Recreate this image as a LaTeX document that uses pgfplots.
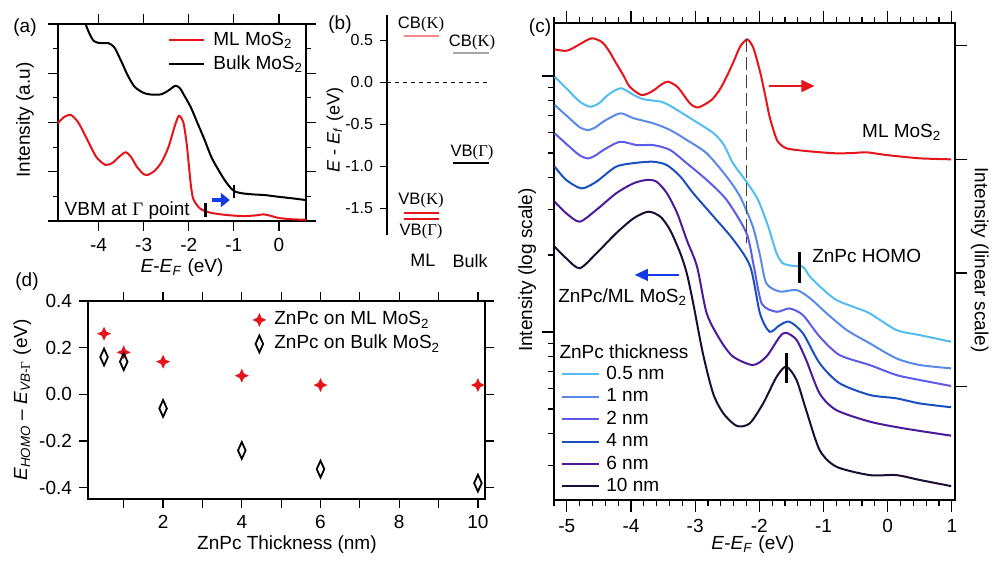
\documentclass[border=0pt]{standalone}
\usepackage{fontspec}
\setmainfont{Liberation Sans}
\newfontfamily\serif{Liberation Serif}
\usepackage{pgfplots}
\pgfplotsset{compat=1.18}
\usetikzlibrary{arrows.meta}

\definecolor{cred}{RGB}{230,20,27}
\definecolor{cpink}{RGB}{240,138,138}
\definecolor{cgray}{RGB}{166,166,166}
\definecolor{cblue}{RGB}{20,60,230}
\definecolor{cA}{RGB}{80,190,240}
\definecolor{cB}{RGB}{90,138,232}
\definecolor{cC}{RGB}{92,92,232}
\definecolor{cD}{RGB}{26,79,194}
\definecolor{cE}{RGB}{75,26,155}
\definecolor{cF}{RGB}{28,13,51}

\pgfdeclareplotmark{star4}{%
 \pgfpathmoveto{\pgfqpoint{0pt}{3.5pt}}%
 \pgfpathlineto{\pgfqpoint{1.1pt}{1.1pt}}%
 \pgfpathlineto{\pgfqpoint{3.5pt}{0pt}}%
 \pgfpathlineto{\pgfqpoint{1.1pt}{-1.1pt}}%
 \pgfpathlineto{\pgfqpoint{0pt}{-3.5pt}}%
 \pgfpathlineto{\pgfqpoint{-1.1pt}{-1.1pt}}%
 \pgfpathlineto{\pgfqpoint{-3.5pt}{0pt}}%
 \pgfpathlineto{\pgfqpoint{-1.1pt}{1.1pt}}%
 \pgfpathclose
 \pgfusepathqfill}
\pgfdeclareplotmark{tdiamond}{%
 \pgfpathmoveto{\pgfqpoint{0pt}{4.2pt}}%
 \pgfpathlineto{\pgfqpoint{1.9pt}{0pt}}%
 \pgfpathlineto{\pgfqpoint{0pt}{-4.2pt}}%
 \pgfpathlineto{\pgfqpoint{-1.9pt}{0pt}}%
 \pgfpathclose
 \pgfusepathqstroke}

\pgfplotsset{
  every axis/.append style={scale only axis, clip=false,
    axis line style={line width=0.7pt}, tick style={line width=0.6pt, black},
    /pgf/number format/assume math mode=true},
  curve/.style={line width=1pt, smooth, tension=0.45},
}

\begin{document}
\begin{tikzpicture}[font=\fontsize{9.5}{11.4}\selectfont]
\useasboundingbox (0,0) rectangle (496.5pt,-280.5pt);

% ---------------- (a)
\begin{axis}[at={(29pt,-110.5pt)}, anchor=south west, width=124pt, height=98.5pt,
  xmin=-4.9, xmax=0.6, ymin=0, ymax=8,
  xtick={-4,-3,-2,-1,0}, xtick pos=both, xticklabel pos=lower,
  ytick={0,2,4,6,8}, minor ytick={1,3,5,7}, ytick pos=both, yticklabel=\empty,
  tick align=outside, major tick length=5pt, minor tick length=2.5pt,
  legend style={at={(0.4435,0.98)}, anchor=north west, draw=none, fill=none, inner sep=0pt,
    row sep=0pt, column sep=3pt, nodes={inner sep=1pt, text height=7.5pt, text depth=2.5pt}},
  legend cell align=left,
  legend image code/.code={\draw[#1] (0pt,0pt) -- (17.5pt,0pt);},
]
\addplot[cred, curve] coordinates {(-4.9,3.97)(-4.78,4.2)(-4.62,4.31)(-4.45,4.0)(-4.25,3.3)(-4.05,2.6)(-3.85,2.28)(-3.7,2.35)(-3.55,2.6)(-3.4,2.79)(-3.28,2.6)(-3.15,2.2)(-3.0,1.9)(-2.9,1.88)(-2.75,2.05)(-2.6,2.4)(-2.45,3.0)(-2.32,3.8)(-2.22,4.27)(-2.12,4.0)(-2.05,3.2)(-2.0,2.3)(-1.95,1.4)(-1.9,0.9)(-1.8,0.6)(-1.7,0.45)(-1.5,0.33)(-1.2,0.25)(-0.8,0.2)(-0.5,0.23)(-0.35,0.27)(-0.2,0.22)(0.0,0.12)(0.3,0.07)(0.6,0.05)};
\addlegendentry{ML MoS\textsubscript{2}}
\addplot[black, curve] coordinates {(-4.29,8.0)(-4.2,7.6)(-4.1,7.3)(-3.95,7.22)(-3.78,7.22)(-3.65,7.05)(-3.5,6.5)(-3.35,5.9)(-3.2,5.45)(-3.0,5.2)(-2.8,5.13)(-2.6,5.15)(-2.45,5.3)(-2.3,5.49)(-2.2,5.4)(-2.1,5.1)(-1.95,4.6)(-1.8,3.95)(-1.65,3.3)(-1.5,2.6)(-1.35,2.1)(-1.2,1.65)(-1.05,1.3)(-0.95,1.18)(-0.8,1.12)(-0.57,1.08)(-0.3,1.05)(-0.04,0.99)(0.3,0.92)(0.6,0.85)};
\addlegendentry{Bulk MoS\textsubscript{2}}
\addplot[black, line width=1.1pt, forget plot] coordinates {(-1.0,0.92)(-1.0,1.46)};
\addplot[black, line width=1.1pt, forget plot] coordinates {(-1.63,0.18)(-1.63,0.72)};
\draw[cblue, line width=2.2pt, -{Triangle[length=4.5pt,width=7pt]}] (axis cs:-1.49,0.85) -- (axis cs:-1.09,0.85);
\node[anchor=base west, inner sep=0pt] at (axis cs:-4.76,0.24) {VBM at {\serif Γ} point};
\node[rotate=90] at (rel axis cs:-0.133,0.513) {Intensity (a.u)};
\node at (rel axis cs:0.5,-0.239) {\textit{E}-\textit{E}\textsubscript{\textit{F}} (eV)};
\end{axis}

% ---------------- (b)
\begin{axis}[at={(193.5pt,-117.5pt)}, anchor=south west, width=54pt, height=110pt,
  xmin=0, xmax=1, ymin=-1.82, ymax=0.80,
  axis x line=none, axis y line*=left,
  ytick={-1.5,-1,-0.5,0,0.5}, tick align=outside, major tick length=3.5pt,
  yticklabel style={font=\fontsize{8}{9.6}\selectfont, /pgf/number format/fixed, /pgf/number format/fixed zerofill, /pgf/number format/precision=1},
]
\addplot[cpink, line width=1.2pt] coordinates {(0.157,0.55)(0.48,0.55)};
\addplot[cgray, line width=1.2pt] coordinates {(0.61,0.35)(0.944,0.35)};
\addplot[black, line width=0.6pt, dash pattern=on 2pt off 2pt] coordinates {(0,0)(0.944,0)};
\addplot[black, line width=1.2pt] coordinates {(0.61,-0.96)(0.944,-0.96)};
\addplot[cred, line width=1.1pt] coordinates {(0.157,-1.56)(0.48,-1.56)};
\addplot[cred, line width=1.1pt] coordinates {(0.157,-1.625)(0.48,-1.625)};
\begin{scope}[font=\fontsize{8.3}{10}\selectfont]
\node at (axis cs:0.315,0.69) {CB{\serif(K)}};
\node at (axis cs:0.787,0.476) {CB{\serif(K)}};
\node at (axis cs:0.787,-0.843) {VB{\serif(Γ)}};
\node at (axis cs:0.315,-1.406) {VB{\serif(K)}};
\node at (axis cs:0.315,-1.778) {VB{\serif(Γ)}};
\end{scope}
\node[font=\fontsize{9}{10.8}\selectfont] at (axis cs:0.333,-2.126) {ML};
\node[font=\fontsize{9}{10.8}\selectfont] at (axis cs:0.769,-2.126) {Bulk};
\node[rotate=90, font=\fontsize{9}{10.8}\selectfont] at (rel axis cs:-0.481,0.477) {\textit{E} - \textit{E}\textsubscript{\textit{f}} (eV)};
\end{axis}

% ---------------- (c) left (log) axis
\begin{axis}[at={(277pt,-250pt)}, anchor=south west, width=200.5pt, height=238.5pt,
  xmin=-5.2, xmax=1.05, ymin=-0.65625, ymax=1.207,
  xtick={-5,-4,-3,-2,-1,0,1}, minor xtick={-5.2,-5.0,...,1.0}, xtick pos=both, xticklabel pos=lower,
  ytick={0,1}, minor ytick={-0.5229,-0.3979,-0.3010,-0.2218,-0.1549,-0.0969,-0.0458,0.3010,0.4771,0.6021,0.6990,0.7782,0.8451,0.9031,0.9542},
  ytick pos=left, yticklabel=\empty,
  tick align=outside, major tick length=6pt, minor tick length=3pt,
  legend style={at={(0.0175,0.287)}, anchor=north west, draw=none, fill=none, inner sep=0pt,
    row sep=0.2pt, column sep=2pt, nodes={inner sep=1pt, text height=7pt, text depth=2pt}},
  legend cell align=left,
  legend image code/.code={\draw[#1] (0pt,0pt) -- (18.5pt,0pt);},
]
\addplot[cA, curve] coordinates {(-5.19,0.997)(-5.0,0.95)(-4.8,0.90)(-4.64,0.880)(-4.5,0.893)(-4.35,0.928)(-4.17,0.952)(-4.05,0.94)(-3.96,0.926)(-3.8,0.909)(-3.54,0.900)(-3.4,0.885)(-3.28,0.867)(-3.03,0.828)(-2.71,0.776)(-2.55,0.73)(-2.41,0.659)(-2.2,0.587)(-2.02,0.516)(-1.86,0.411)(-1.73,0.307)(-1.63,0.268)(-1.47,0.258)(-1.32,0.255)(-1.21,0.216)(-1.0,0.165)(-0.8,0.125)(-0.5,0.095)(-0.28,0.073)(0.135,0.008)(0.5,-0.012)(0.99,-0.038)};
\addlegendentry{0.5 nm}
\addplot[cB, curve] coordinates {(-5.19,0.887)(-4.96,0.835)(-4.8,0.80)(-4.67,0.789)(-4.55,0.80)(-4.43,0.822)(-4.17,0.854)(-3.96,0.835)(-3.65,0.815)(-3.39,0.789)(-3.13,0.75)(-2.82,0.698)(-2.51,0.607)(-2.30,0.529)(-2.10,0.411)(-1.99,0.30)(-1.89,0.19)(-1.68,0.158)(-1.42,0.164)(-1.21,0.132)(-0.95,0.073)(-0.64,0.008)(-0.28,-0.044)(0.135,-0.103)(0.5,-0.129)(0.99,-0.142)};
\addlegendentry{1 nm}
\addplot[cC, curve] coordinates {(-5.19,0.776)(-4.96,0.724)(-4.8,0.69)(-4.67,0.678)(-4.55,0.69)(-4.43,0.711)(-4.17,0.743)(-3.91,0.730)(-3.65,0.730)(-3.39,0.711)(-3.13,0.659)(-2.82,0.594)(-2.51,0.516)(-2.20,0.386)(-2.08,0.25)(-1.96,0.11)(-1.73,0.079)(-1.53,0.092)(-1.32,0.066)(-1.06,-0.018)(-0.75,-0.090)(-0.28,-0.129)(0.135,-0.168)(0.5,-0.1875)(0.99,-0.211)};
\addlegendentry{2 nm}
\addplot[cD, curve] coordinates {(-5.19,0.646)(-5.01,0.594)(-4.77,0.561)(-4.54,0.587)(-4.23,0.646)(-3.91,0.661)(-3.65,0.665)(-3.44,0.652)(-3.23,0.607)(-3.03,0.542)(-2.71,0.45)(-2.40,0.359)(-2.14,0.255)(-1.99,0.073)(-1.84,0.001)(-1.68,0.027)(-1.53,0.040)(-1.32,-0.005)(-1.06,-0.122)(-0.75,-0.2)(-0.28,-0.246)(0.135,-0.259)(0.5,-0.279)(0.99,-0.294)};
\addlegendentry{4 nm}
\addplot[cE, curve] coordinates {(-5.19,0.509)(-5.01,0.464)(-4.80,0.431)(-4.54,0.477)(-4.23,0.542)(-3.96,0.581)(-3.75,0.594)(-3.60,0.587)(-3.44,0.542)(-3.28,0.464)(-3.13,0.359)(-2.97,0.255)(-2.82,0.073)(-2.61,-0.031)(-2.41,-0.096)(-2.10,-0.129)(-1.89,-0.096)(-1.68,-0.018)(-1.58,-0.003)(-1.42,-0.031)(-1.27,-0.109)(-1.06,-0.24)(-0.80,-0.305)(-0.28,-0.35)(0.24,-0.376)(0.99,-0.405)};
\addlegendentry{6 nm}
\addplot[cF, curve] coordinates {(-5.19,0.333)(-5.01,0.288)(-4.80,0.249)(-4.54,0.307)(-4.23,0.386)(-3.96,0.444)(-3.73,0.470)(-3.54,0.45)(-3.39,0.398)(-3.23,0.307)(-3.13,0.229)(-3.03,0.112)(-2.88,-0.083)(-2.72,-0.24)(-2.56,-0.318)(-2.35,-0.367)(-2.15,-0.357)(-1.94,-0.279)(-1.73,-0.175)(-1.58,-0.135)(-1.42,-0.1875)(-1.27,-0.305)(-1.06,-0.461)(-0.80,-0.526)(-0.28,-0.559)(0.135,-0.559)(0.5,-0.578)(0.99,-0.602)};
\addlegendentry{10 nm}
\addplot[black, line width=1.3pt, forget plot] coordinates {(-1.37,0.3125)(-1.37,0.191)};
\addplot[black, line width=1.3pt, forget plot] coordinates {(-1.58,-0.083)(-1.58,-0.2)};
\draw[cblue, line width=0.6pt, -{Triangle[length=6.5pt,width=6pt]}] (axis cs:-3.25,0.223) -- (axis cs:-3.94,0.223);
\node[anchor=west, inner sep=0pt] at (axis cs:-1.18,0.297) {ZnPc HOMO};
\node[anchor=west, inner sep=0pt] at (axis cs:-5.14,0.137) {ZnPc/ML MoS\textsubscript{2}};
\node[anchor=west, inner sep=0pt] at (axis cs:-5.12,-0.078) {ZnPc thickness};
\node[rotate=90] at (rel axis cs:-0.067,0.482) {Intensity (log scale)};
\node at (rel axis cs:0.496,-0.094) {\textit{E}-\textit{E}\textsubscript{\textit{F}} (eV)};
\end{axis}

% ---------------- (c) right (linear) axis
\begin{axis}[at={(277pt,-250pt)}, anchor=south west, width=200.5pt, height=238.5pt,
  xmin=-5.2, xmax=1.05, ymin=-1.996, ymax=2.199,
  axis x line=none, axis y line*=right,
  ytick={-1,0,1,2}, yticklabel=\empty,
  tick align=outside, major tick length=6pt,
]
\addplot[cred, curve] coordinates {(-5.19,1.967)(-5.0,1.955)(-4.82,2.005)(-4.62,2.064)(-4.46,2.034)(-4.35,1.96)(-4.23,1.844)(-4.12,1.74)(-4.02,1.639)(-3.84,1.566)(-3.68,1.595)(-3.52,1.66)(-3.42,1.683)(-3.27,1.633)(-3.08,1.492)(-2.95,1.457)(-2.75,1.52)(-2.62,1.61)(-2.51,1.727)(-2.40,1.86)(-2.30,1.99)(-2.19,2.055)(-2.10,1.99)(-2.03,1.86)(-1.97,1.727)(-1.90,1.54)(-1.84,1.375)(-1.77,1.24)(-1.71,1.155)(-1.58,1.097)(-1.32,1.076)(-1.05,1.062)(-0.80,1.053)(-0.55,1.055)(-0.33,1.062)(-0.02,1.038)(0.50,1.009)(0.99,1.0)};
\addplot[black!75, line width=0.8pt, dash pattern=on 6.5pt off 2.5pt] coordinates {(-2.2,2.058)(-2.2,0.264)};
\draw[cred, line width=0.6pt, -{Triangle[length=6.5pt,width=6pt]}] (axis cs:-1.85,1.645) -- (axis cs:-1.14,1.645);
\node at (axis cs:0.22,1.24) {ML MoS\textsubscript{2}};
\node[rotate=-90] at (rel axis cs:1.062,0.503) {Intensity (linear scale)};
\end{axis}

% ---------------- (d)
\begin{axis}[at={(44pt,-249.5pt)}, anchor=south west, width=198.5pt, height=99pt,
  xmin=0.092, xmax=10.18, ymin=-0.448, ymax=0.4,
  xtick={2,4,6,8,10}, minor xtick={1,3,5,7,9}, xtick pos=both, xticklabel pos=lower,
  ytick={-0.4,-0.2,0,0.2,0.4}, ytick pos=both, yticklabel pos=left,
  tick align=outside, major tick length=4.5pt, minor tick length=4.5pt,
  yticklabel style={/pgf/number format/fixed, /pgf/number format/fixed zerofill, /pgf/number format/precision=1},
  legend style={at={(0.413,0.967)}, anchor=north west, draw=none, fill=none, inner sep=0pt,
    row sep=0pt, column sep=3pt, nodes={inner sep=1pt, text height=7.5pt, text depth=2.5pt}},
  legend cell align=left,
]
\addplot[only marks, mark=star4, color=cred] coordinates {(0.5,0.26)(1,0.18)(2,0.14)(4,0.08)(6,0.04)(10,0.04)};
\addlegendentry{ZnPc on ML MoS\textsubscript{2}}
\addplot[only marks, mark=tdiamond, color=black, mark options={line width=0.9pt}] coordinates {(0.5,0.16)(1,0.14)(2,-0.06)(4,-0.24)(6,-0.32)(10,-0.38)};
\addlegendentry{ZnPc on Bulk MoS\textsubscript{2}}
\node[rotate=90] at (rel axis cs:-0.166,0.5) {\textit{E}\textsubscript{\textit{HOMO}} – \textit{E}\textsubscript{\textit{VB-}{\serif Γ}} (eV)};
\node at (rel axis cs:0.501,-0.232) {ZnPc Thickness (nm)};
\end{axis}

\node at (12.5pt,-14pt) {(a)};
\node at (170pt,-12.5pt) {(b)};
\node at (270pt,-14pt) {(c)};
\node at (13.5pt,-141pt) {(d)};
\end{tikzpicture}
\end{document}
